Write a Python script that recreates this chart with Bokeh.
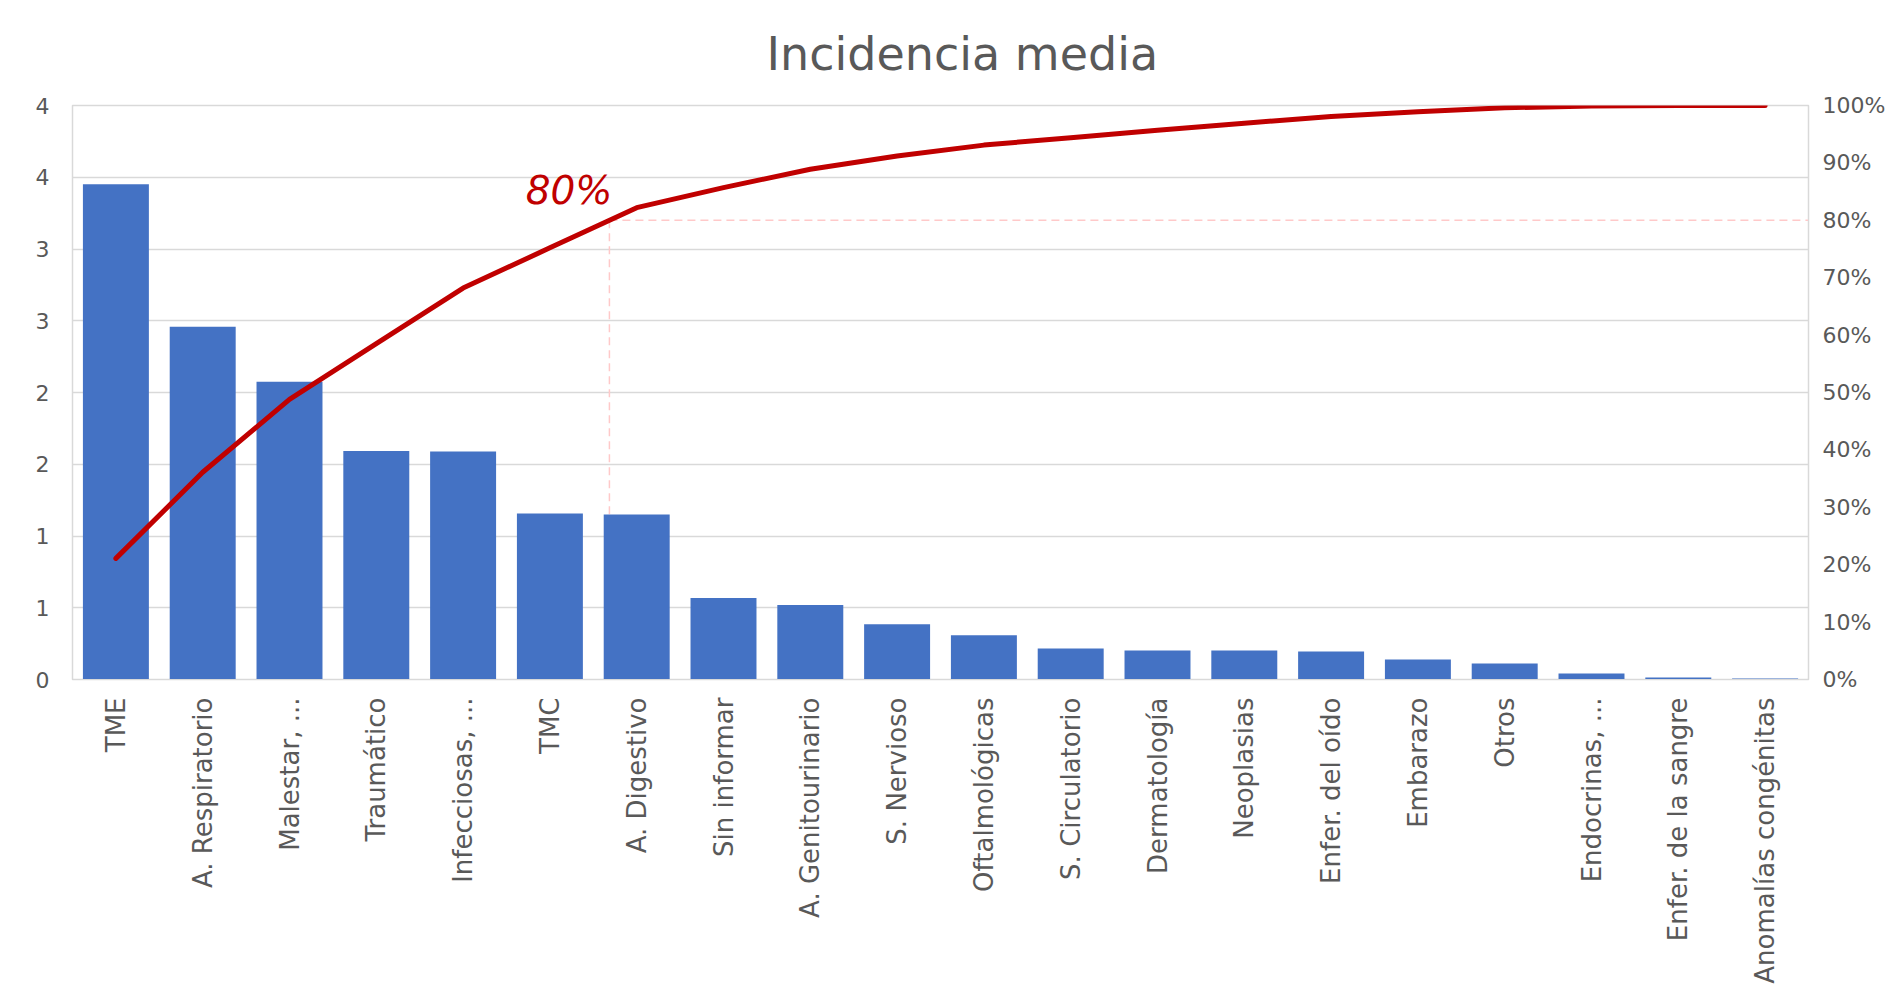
import math
from bokeh.plotting import figure
from bokeh.models import Range1d, LinearAxis, FixedTicker, Label, BoxAnnotation
from bokeh.embed import file_html
from bokeh.resources import INLINE

# ---------------- data ----------------
categories = ["TME", "A. Respiratorio", "Malestar, ...", "Traumático", "Infecciosas, ...",
              "TMC", "A. Digestivo", "Sin informar", "A. Genitourinario", "S. Nervioso",
              "Oftalmológicas", "S. Circulatorio", "Dermatología", "Neoplasias",
              "Enfer. del oído", "Embarazo", "Otros", "Endocrinas, ...",
              "Enfer. de la sangre", "Anomalías congénitas"]
incidencia = [3.451, 2.458, 2.075, 1.592, 1.588, 1.156, 1.149, 0.568, 0.519, 0.385,
              0.308, 0.216, 0.202, 0.202, 0.195, 0.139, 0.111, 0.042, 0.014, 0.007]
acumulado_pct = [21.1, 36.1, 48.8, 58.5, 68.2, 75.2, 82.2, 85.7, 88.9, 91.2,
                 93.1, 94.4, 95.7, 96.9, 98.1, 98.9, 99.6, 99.9, 100.0, 100.0]

left_tick_values = [0, 0.5, 1, 1.5, 2, 2.5, 3, 3.5, 4]
left_tick_labels = ["0", "1", "1", "2", "2", "3", "3", "4", "4"]
right_tick_values = [0, 10, 20, 30, 40, 50, 60, 70, 80, 90, 100]
right_tick_labels = ["0%", "10%", "20%", "30%", "40%", "50%", "60%", "70%", "80%", "90%", "100%"]
umbral = 80
umbral_label = "80%"
title_text = "Incidencia media"

# ---------------- styles ----------------
FONT = "DejaVu Sans"
GREY_TXT = "#595959"
GRID = "#d9d9d9"
BAR = "#4472c4"
RED = "#c00000"
PINK = "#ffc9c9"

p = figure(x_range=categories, y_range=Range1d(0, 4),
           width=1888, height=989, output_backend="svg", toolbar_location=None,
           min_border_left=72, min_border_right=78, min_border_top=105, min_border_bottom=310,
           background_fill_color="white", border_fill_color="white")
p.extra_y_ranges = {"pct": Range1d(0, 100)}

p.title.text = title_text
p.title.align = "left"
p.title.offset = 694
p.title.text_font = FONT
p.title.text_font_size = "46px"
p.title.text_font_style = "normal"
p.title.text_color = GREY_TXT
p.title.standoff = 49

p.outline_line_color = GRID
p.outline_line_width = 1.5
p.xgrid.grid_line_color = None
p.ygrid.ticker = FixedTicker(ticks=left_tick_values)
p.ygrid.grid_line_color = GRID
p.ygrid.grid_line_width = 1.5

# chart-area border (decorative, canvas units)
p.add_layout(BoxAnnotation(left=12, right=1900, top=12, bottom=1010,
                           left_units="canvas", right_units="canvas",
                           top_units="canvas", bottom_units="canvas",
                           fill_alpha=0, line_color=GRID, line_width=1.5, level="underlay"))

# left axis
ya = p.yaxis[0]
ya.ticker = FixedTicker(ticks=left_tick_values)
ya.major_label_overrides = {v: l for v, l in zip(left_tick_values, left_tick_labels)}
ya.axis_line_color = GRID
ya.major_tick_line_color = None
ya.minor_tick_line_color = None
ya.major_label_text_font = FONT
ya.major_label_text_font_size = "22px"
ya.major_label_text_color = GREY_TXT
ya.major_label_standoff = 17

# right axis
ra = LinearAxis(y_range_name="pct", ticker=FixedTicker(ticks=right_tick_values))
ra.major_label_overrides = {v: l for v, l in zip(right_tick_values, right_tick_labels)}
ra.axis_line_color = GRID
ra.major_tick_line_color = None
ra.minor_tick_line_color = None
ra.major_label_text_font = FONT
ra.major_label_text_font_size = "22px"
ra.major_label_text_color = GREY_TXT
ra.major_label_standoff = 8
p.add_layout(ra, "right")

# bottom axis
xa = p.xaxis[0]
xa.axis_line_color = GRID
xa.major_tick_line_color = None
xa.minor_tick_line_color = None
xa.major_label_orientation = math.pi / 2
xa.major_label_text_font = FONT
xa.major_label_text_font_size = "26px"
xa.major_label_text_color = GREY_TXT
xa.major_label_standoff = 12

# 80% crossing point (synthetic categorical coordinate, derived from the data)
i = next(k for k in range(len(acumulado_pct)) if acumulado_pct[k] >= umbral) - 1
x_cross = (i + 0.5) + (umbral - acumulado_pct[i]) / (acumulado_pct[i + 1] - acumulado_pct[i])

p.segment(x0=[x_cross, x_cross], y0=[umbral, umbral], x1=[len(categories), x_cross], y1=[umbral, 0],
          y_range_name="pct", line_color=PINK, line_width=1.5, line_dash="8 5")

p.vbar(x=categories, top=incidencia, width=0.76, fill_color=BAR, line_color=None)

p.line(x=categories, y=acumulado_pct, y_range_name="pct", line_color=RED, line_width=5,
       line_join="round", line_cap="round")

p.add_layout(Label(x=x_cross, y=umbral, y_range_name="pct", text=umbral_label,
                   text_align="right", text_baseline="alphabetic", x_offset=3, y_offset=30,
                   text_font=FONT, text_font_size="39px", text_font_style="italic",
                   text_color=RED))

open("out.html", "w").write(file_html(p, INLINE))
